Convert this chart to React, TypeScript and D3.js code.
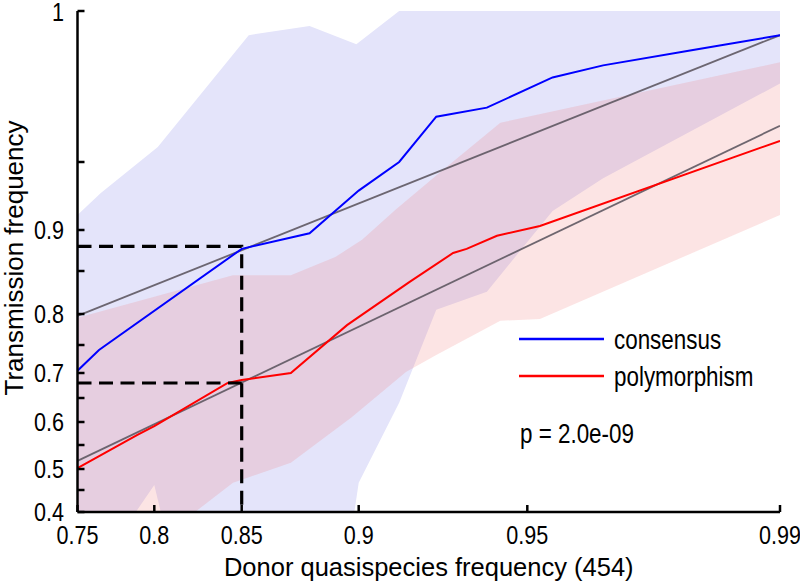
import React, { useEffect, useRef } from 'react';
import * as d3 from 'd3';

type Pt = [number, number];

// tick values
const xTickValues = [0.75, 0.8, 0.85, 0.9, 0.95, 0.99];
const yTickLabels = [0.4, 0.5, 0.6, 0.7, 0.8, 0.9, 1];
const yMinorTicks = [0.45, 0.55, 0.65, 0.75, 0.85, 0.95];

// mean transmission curves
const consensus: Pt[] = [
  [0.75, 0.704], [0.764, 0.741], [0.85, 0.877], [0.879, 0.896], [0.9, 0.929],
  [0.912, 0.95], [0.923, 0.965], [0.938, 0.968], [0.954, 0.978], [0.962, 0.982],
  [0.976, 0.987], [0.99, 0.992],
];
const polymorphism: Pt[] = [
  [0.75, 0.502], [0.789, 0.572], [0.8, 0.591], [0.842, 0.68], [0.85, 0.686],
  [0.871, 0.7], [0.895, 0.782], [0.915, 0.837], [0.928, 0.872], [0.932, 0.877],
  [0.941, 0.893], [0.952, 0.903], [0.99, 0.957],
];

// fitted lines
const consensusFit: Pt[] = [[0.75, 0.797], [0.99, 0.992]];
const polymorphismFit: Pt[] = [[0.75, 0.517], [0.99, 0.962]];

// confidence bands
const consensusUpper: Pt[] = [
  [0.75, 0.911], [0.765, 0.927], [0.802, 0.955], [0.853, 0.992], [0.879, 0.995],
  [0.899, 0.989], [0.912, 1], [0.99, 1],
];
const consensusLower: Pt[] = [
  [0.75, 0.37], [0.787, 0.395], [0.8, 0.462], [0.804, 0.395], [0.81, 0.37],
  [0.895, 0.37], [0.898, 0.395], [0.9, 0.467], [0.912, 0.64], [0.923, 0.805],
  [0.938, 0.826], [0.954, 0.914], [0.962, 0.938], [0.99, 0.976],
];
const polymorphismUpper: Pt[] = [
  [0.75, 0.794], [0.8, 0.82], [0.845, 0.845], [0.871, 0.845], [0.89, 0.867],
  [0.901, 0.888], [0.911, 0.915], [0.923, 0.94], [0.942, 0.963], [0.99, 0.983],
];
const polymorphismLower: Pt[] = [
  [0.75, 0.37], [0.82, 0.39], [0.845, 0.467], [0.871, 0.513], [0.897, 0.61],
  [0.914, 0.702], [0.923, 0.732], [0.942, 0.789], [0.952, 0.792], [0.99, 0.911],
];

// dashed guides
const guideX = 0.85;
const guideY = [0.88, 0.68];

const legendItems = [
  { label: 'consensus', color: '#0000ff' },
  { label: 'polymorphism', color: '#ff0000' },
];
const pValueText = 'p = 2.0e-09';

const FONT = '"Liberation Sans", Arial, sans-serif';
const SQUEEZE = 0.83;

const App: React.FC = () => {
  const svgRef = useRef<SVGSVGElement>(null);

  useEffect(() => {
    if (!svgRef.current) return;
    const svg = d3.select(svgRef.current);
    svg.selectAll('*').remove();

    // the axes are stretched towards 1, so both scales are piecewise
    const x = d3.scaleLinear()
      .domain(xTickValues)
      .range([77.5, 154.3, 241.7, 358.7, 527.3, 780]);
    const y = d3.scaleLinear()
      .domain([0.4, 0.45, 0.5, 0.55, 0.6, 0.65, 0.7, 0.75, 0.8, 0.85, 0.9, 0.95, 1])
      .range([512, 490, 469, 445, 422, 398, 373, 345, 314, 271, 230, 162, 11]);

    const [x0, x1] = [x(0.75), x(0.99)];
    const [yBot, yTop] = [y(0.4), y(1)];

    svg.append('defs').append('clipPath').attr('id', 'plot-clip')
      .append('rect')
      .attr('x', x0).attr('y', yTop)
      .attr('width', x1 - x0).attr('height', yBot - yTop);

    const plot = svg.append('g').attr('clip-path', 'url(#plot-clip)');

    const line = d3.line<Pt>().x(d => x(d[0])).y(d => y(d[1]));
    const band = d3.line<Pt>().x(d => x(d[0])).y(d => y(d[1])).curve(d3.curveLinearClosed);

    plot.append('path')
      .attr('d', band([...consensusUpper, ...consensusLower.slice().reverse()]))
      .attr('fill', '#e4e4fa');
    plot.append('path')
      .attr('d', band([...polymorphismUpper, ...polymorphismLower.slice().reverse()]))
      .attr('fill', 'rgb(240,120,120)')
      .attr('fill-opacity', 0.2);

    [consensusFit, polymorphismFit].forEach(fit => {
      plot.append('path')
        .attr('d', line(fit))
        .attr('fill', 'none')
        .attr('stroke', '#5e5862')
        .attr('stroke-opacity', 0.9)
        .attr('stroke-width', 1.8);
    });

    plot.append('path')
      .attr('d', line(consensus))
      .attr('fill', 'none')
      .attr('stroke', '#0000ff')
      .attr('stroke-width', 2);
    plot.append('path')
      .attr('d', line(polymorphism))
      .attr('fill', 'none')
      .attr('stroke', '#ff0000')
      .attr('stroke-width', 2);

    // dashed guides at donor frequency 0.85
    const dash = (pts: Pt[]) => plot.append('path')
      .attr('d', line(pts))
      .attr('fill', 'none')
      .attr('stroke', '#000')
      .attr('stroke-width', 3.2)
      .attr('stroke-dasharray', '14,7.5');
    dash([[0.75, guideY[0]], [guideX, guideY[0]], [guideX, 0.4]]);
    dash([[0.75, guideY[1]], [guideX, guideY[1]]]);

    // axes
    const gx = svg.append('g')
      .attr('transform', `translate(0,${yBot})`)
      .call(d3.axisBottom(x).tickValues(xTickValues).tickSizeInner(-7).tickSizeOuter(0).offset(0).tickFormat(() => ''));
    const gy = svg.append('g')
      .attr('transform', `translate(${x0},0)`)
      .call(d3.axisLeft(y).tickValues([...yTickLabels, ...yMinorTicks]).tickSizeInner(-7).tickSizeOuter(0).offset(0).tickFormat(() => ''));
    [gx, gy].forEach(g => {
      g.selectAll('path, line').attr('stroke', '#000').attr('stroke-width', 2.5);
    });

    svg.append('g').selectAll('text')
      .data(xTickValues)
      .join('text')
      .attr('transform', d => `translate(${x(d)},544) scale(${SQUEEZE},1)`)
      .attr('text-anchor', 'middle')
      .attr('font-family', FONT)
      .attr('font-size', 26)
      .text(d => String(d));

    svg.append('g').selectAll('text')
      .data(yTickLabels)
      .join('text')
      .attr('transform', d => `translate(64,${Math.max(y(d) + 9, 21)}) scale(${SQUEEZE},1)`)
      .attr('text-anchor', 'end')
      .attr('font-family', FONT)
      .attr('font-size', 26)
      .text(d => String(d));

    // axis titles
    svg.append('text')
      .attr('x', (x0 + x1) / 2)
      .attr('y', 576)
      .attr('text-anchor', 'middle')
      .attr('font-family', FONT)
      .attr('font-size', 25.5)
      .text('Donor quasispecies frequency (454)');
    svg.append('text')
      .attr('transform', 'translate(23,258) rotate(-90)')
      .attr('text-anchor', 'middle')
      .attr('font-family', FONT)
      .attr('font-size', 26)
      .text('Transmission frequency');

    // legend
    const legend = svg.append('g');
    legendItems.forEach((item, i) => {
      const ly = 339 + i * 37;
      legend.append('line')
        .attr('x1', 519).attr('x2', 604)
        .attr('y1', ly).attr('y2', ly)
        .attr('stroke', item.color)
        .attr('stroke-width', 2.5);
      legend.append('text')
        .attr('transform', `translate(614,${ly + 10}) scale(${SQUEEZE},1)`)
        .attr('font-family', FONT)
        .attr('font-size', 27)
        .text(item.label);
    });
    legend.append('text')
      .attr('transform', `translate(520,443) scale(${SQUEEZE},1)`)
      .attr('font-family', FONT)
      .attr('font-size', 27)
      .text(pValueText);
  }, []);

  return (
    <div style={{ position: 'absolute', left: 0, top: 0, width: 800, height: 587, background: '#fff' }}>
      <svg ref={svgRef} width={800} height={587} style={{ display: 'block' }} />
    </div>
  );
};

export default App;
